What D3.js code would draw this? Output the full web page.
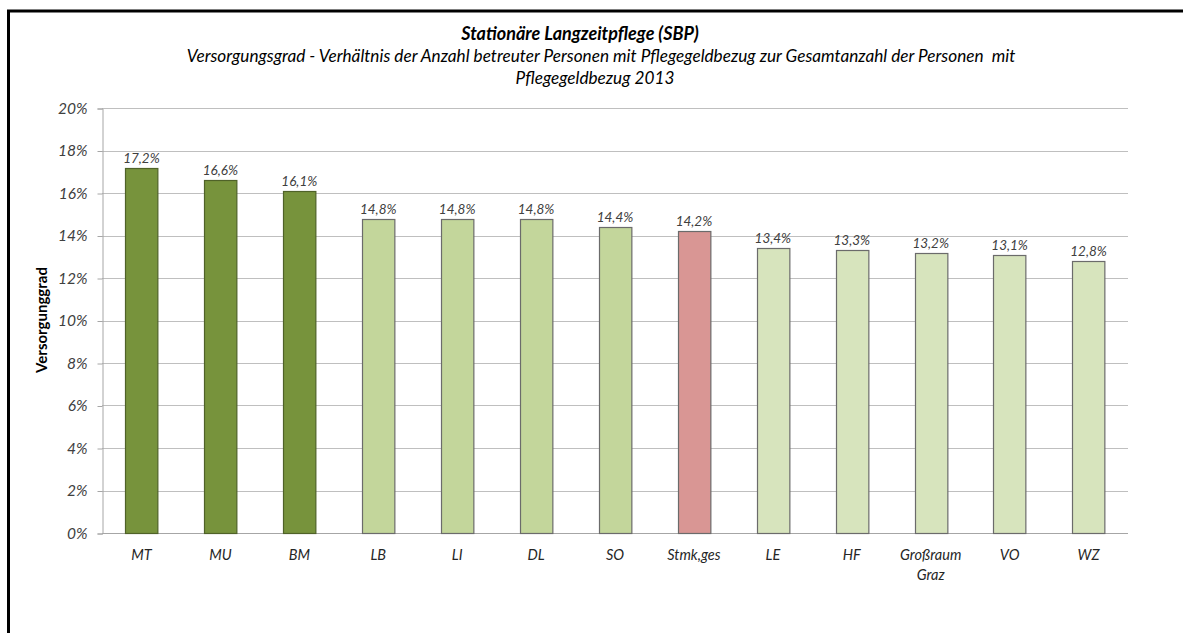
<!DOCTYPE html>
<html>
<head>
<meta charset="utf-8">
<script src="https://cdn.jsdelivr.net/npm/d3@7"></script>
<style>
  body { margin: 0; background: #fff; }
  svg { display: block; }
  text { font-family: Lato, "Open Sans", sans-serif; }
</style>
</head>
<body>
<svg id="chart" width="1183" height="633"></svg>
<script>
// data
var regions = ["MT", "MU", "BM", "LB", "LI", "DL", "SO", "Stmk,ges", "LE", "HF", "Großraum Graz", "VO", "WZ"];
var shares = [17.2, 16.6, 16.1, 14.8, 14.8, 14.8, 14.4, 14.2, 13.4, 13.3, 13.2, 13.1, 12.8];
var groups = ["high", "high", "high", "mid", "mid", "mid", "mid", "total", "low", "low", "low", "low", "low"];
var yTicks = [0, 2, 4, 6, 8, 10, 12, 14, 16, 18, 20];

var groupColors = { high: "#77933C", mid: "#C3D69B", total: "#D99694", low: "#D7E4BD" };

(function() {
    var svg = d3.select("#chart");

    // outer frame, runs off the right and bottom edge
    svg.append("rect")
        .attr("x", 8.5).attr("y", 11)
        .attr("width", 2000).attr("height", 1000)
        .attr("fill", "none")
        .attr("stroke", "#000")
        .attr("stroke-width", 3);

    var plotLeft = 102, plotRight = 1128, plotTop = 108, plotBottom = 533;

    var x = d3.scaleBand()
        .domain(regions)
        .range([plotLeft, plotRight])
        .paddingInner(0.59)
        .paddingOuter(0.295);

    var y = d3.scaleLinear()
        .domain([0, 20])
        .range([plotBottom, plotTop]);

    // grid
    svg.append("g")
        .selectAll("line")
        .data(yTicks)
        .enter()
        .append("line")
        .attr("x1", plotLeft).attr("x2", plotRight)
        .attr("y1", function(d) { return Math.round(y(d)) + 0.5; })
        .attr("y2", function(d) { return Math.round(y(d)) + 0.5; })
        .attr("stroke", function(d) { return d === 0 ? "#A6A6A6" : "#BFBFBF"; })
        .attr("stroke-width", 1);

    // y axis
    var yAxis = svg.append("g")
        .attr("transform", "translate(" + (plotLeft + 0.5) + ",0.5)")
        .call(d3.axisLeft(y).tickValues(yTicks).tickSize(5).tickPadding(10)
            .tickFormat(function(d) { return d + "%"; }));
    yAxis.select(".domain").attr("stroke", "#A6A6A6");
    yAxis.selectAll(".tick line").attr("stroke", "#A6A6A6");
    yAxis.selectAll(".tick text")
        .attr("fill", "#404040")
        .style("font-size", "15.5px")
        .style("font-style", "italic")
        .style("font-family", "Lato, sans-serif");

    // bars
    var rows = regions.map(function(r, i) { return { name: r, value: shares[i], group: groups[i] }; });

    svg.append("g")
        .selectAll("rect")
        .data(rows)
        .enter()
        .append("rect")
        .attr("x", function(d) { return Math.round(x(d.name)) + 0.5; })
        .attr("y", function(d) { return Math.round(y(d.value)) + 0.5; })
        .attr("width", x.bandwidth())
        .attr("height", function(d) { return plotBottom - Math.round(y(d.value)); })
        .attr("fill", function(d) { return groupColors[d.group]; })
        .attr("stroke", function(d) { return d.group === "high" ? "#4F6228" : "#6B6B6B"; })
        .attr("stroke-width", 1.2);

    // value labels
    svg.append("g")
        .selectAll("text")
        .data(rows)
        .enter()
        .append("text")
        .attr("x", function(d) { return x(d.name) + x.bandwidth() / 2; })
        .attr("y", function(d) { return y(d.value) - 5; })
        .attr("text-anchor", "middle")
        .attr("fill", "#404040")
        .style("font-size", "13.5px")
        .style("font-style", "italic")
        .text(function(d) { return d.value.toFixed(1).replace(".", ",") + "%"; });

    // category labels
    var xl = svg.append("g")
        .selectAll("text")
        .data(regions)
        .enter()
        .append("text")
        .attr("x", function(d) { return x(d) + x.bandwidth() / 2; })
        .attr("y", 560)
        .attr("text-anchor", "middle")
        .attr("fill", "#262626")
        .style("font-size", "14.5px")
        .style("font-style", "italic");
    xl.each(function(d) {
        var parts = d.split(" ");
        var t = d3.select(this);
        parts.forEach(function(p, i) {
            t.append("tspan")
                .attr("x", t.attr("x"))
                .attr("dy", i === 0 ? 0 : 20)
                .text(p);
        });
    });

    // y axis title
    svg.append("text")
        .attr("transform", "translate(47,320) rotate(-90)")
        .attr("text-anchor", "middle")
        .attr("fill", "#000")
        .style("font-size", "15px")
        .style("font-weight", "bold")
        .text("Versorgunggrad");

    // titles
    svg.append("text")
        .attr("x", 580).attr("y", 40)
        .attr("text-anchor", "middle")
        .attr("fill", "#000")
        .style("font-size", "18px")
        .style("font-weight", "bold")
        .style("font-style", "italic")
        .text("Stationäre Langzeitpflege (SBP)");

    svg.append("text")
        .attr("x", 601).attr("y", 62)
        .attr("text-anchor", "middle")
        .attr("fill", "#000")
        .style("font-size", "17.2px")
        .style("font-style", "italic")
        .style("white-space", "pre")
        .text("Versorgungsgrad - Verhältnis der Anzahl betreuter Personen mit Pflegegeldbezug zur Gesamtanzahl der Personen  mit");

    svg.append("text")
        .attr("x", 595).attr("y", 84)
        .attr("text-anchor", "middle")
        .attr("fill", "#000")
        .style("font-size", "17.2px")
        .style("font-style", "italic")
        .text("Pflegegeldbezug 2013");
})();
</script>
</body>
</html>
